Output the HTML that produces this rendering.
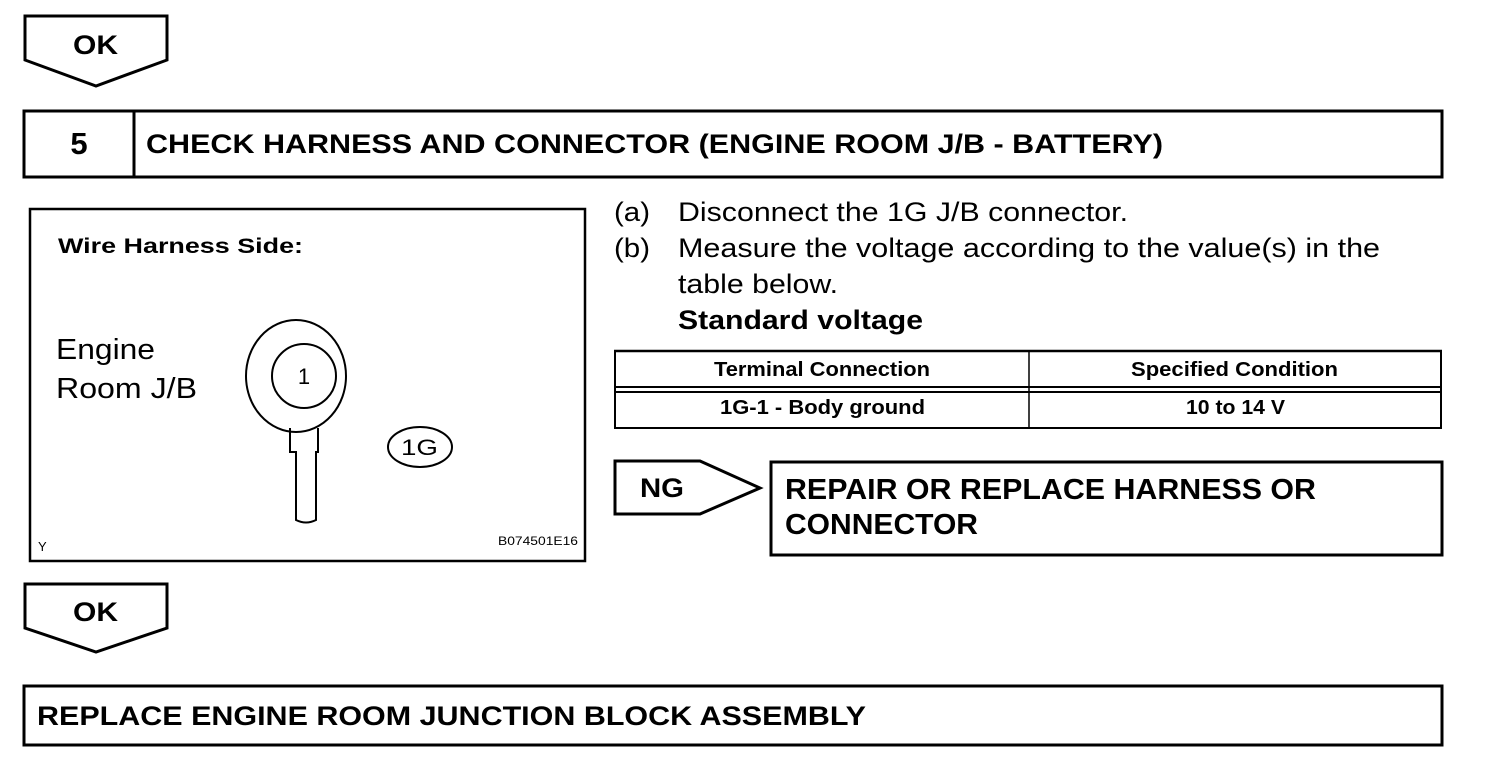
<!DOCTYPE html>
<html><head><meta charset="utf-8"><style>
html,body{margin:0;padding:0;background:#fff;}
svg{display:block;}
text{font-family:"Liberation Sans",Arial,sans-serif;fill:#000;}
.b{font-weight:bold;}
.n{font-family:"Liberation Sans",sans-serif;font-weight:bold;}
</style></head><body>
<svg width="1504" height="770" viewBox="0 0 1504 770" xmlns="http://www.w3.org/2000/svg">
<g fill="none" stroke="#000" stroke-width="3">
<polygon points="25,16 167,16 167,60 96,86 25,60"/>
<rect x="24" y="111" width="1418" height="66"/>
<line x1="134" y1="111" x2="134" y2="177"/>
<rect x="30" y="209" width="555" height="352" stroke-width="2.5"/>
<polygon points="25,584 167,584 167,628 96,652 25,628"/>
<rect x="24" y="686" width="1418" height="59"/>
<polygon points="615,461 700,461 760,488 700,514 615,514"/>
<rect x="771" y="462" width="671" height="93"/>
</g>
<g stroke="#000" fill="none">
<line x1="614" y1="351" x2="1442" y2="351" stroke-width="2.5"/>
<line x1="614" y1="387" x2="1442" y2="387" stroke-width="2"/>
<line x1="614" y1="392" x2="1442" y2="392" stroke-width="2"/>
<line x1="614" y1="428" x2="1442" y2="428" stroke-width="2"/>
<line x1="615" y1="351" x2="615" y2="428" stroke-width="2"/>
<line x1="1029" y1="351" x2="1029" y2="428" stroke-width="1.5"/>
<line x1="1441" y1="351" x2="1441" y2="428" stroke-width="2"/>
</g>
<g fill="none" stroke="#000" stroke-width="2">
<ellipse cx="296" cy="376" rx="50" ry="56"/>
<ellipse cx="304" cy="376" rx="32" ry="32"/>
<path d="M290,428 L290,452 L296,452 L296,520 Q306,525 316,520 L316,452 L318,452 L318,428"/>
<ellipse cx="420" cy="447" rx="32" ry="20"/>
</g>
<text x="73" y="54" class="b" font-size="27" textLength="45" lengthAdjust="spacingAndGlyphs">OK</text>
<text x="73" y="621" class="b" font-size="27" textLength="45" lengthAdjust="spacingAndGlyphs">OK</text>
<text x="79" y="154" class="b" font-size="31" text-anchor="middle">5</text>
<text x="146" y="153" class="b" font-size="27" textLength="1017" lengthAdjust="spacingAndGlyphs">CHECK HARNESS AND CONNECTOR (ENGINE ROOM J/B - BATTERY)</text>
<text x="58" y="253" class="b" font-size="21" textLength="245" lengthAdjust="spacingAndGlyphs">Wire Harness Side:</text>
<text x="56" y="359" font-size="29" textLength="99" lengthAdjust="spacingAndGlyphs">Engine</text>
<text x="56" y="398" font-size="29" textLength="141" lengthAdjust="spacingAndGlyphs">Room J/B</text>
<text x="304" y="384" font-size="22" text-anchor="middle">1</text>
<text x="401" y="455" font-size="22" textLength="37" lengthAdjust="spacingAndGlyphs">1G</text>
<text x="38" y="551" font-size="13">Y</text>
<text x="498" y="545" font-size="12" textLength="80" lengthAdjust="spacingAndGlyphs">B074501E16</text>
<text x="614" y="221" font-size="27" textLength="36" lengthAdjust="spacingAndGlyphs">(a)</text>
<text x="678" y="221" font-size="27" textLength="450" lengthAdjust="spacingAndGlyphs">Disconnect the 1G J/B connector.</text>
<text x="614" y="257" font-size="27" textLength="36" lengthAdjust="spacingAndGlyphs">(b)</text>
<text x="678" y="257" font-size="27" textLength="702" lengthAdjust="spacingAndGlyphs">Measure the voltage according to the value(s) in the</text>
<text x="678" y="293" font-size="27" textLength="160" lengthAdjust="spacingAndGlyphs">table below.</text>
<text x="678" y="329" class="b" font-size="27" textLength="245" lengthAdjust="spacingAndGlyphs">Standard voltage</text>
<text x="714" y="376" class="n" font-size="20" textLength="216" lengthAdjust="spacingAndGlyphs">Terminal Connection</text>
<text x="1131" y="376" class="n" font-size="20" textLength="207" lengthAdjust="spacingAndGlyphs">Specified Condition</text>
<text x="720" y="414" class="n" font-size="20" textLength="205" lengthAdjust="spacingAndGlyphs">1G-1 - Body ground</text>
<text x="1186" y="414" class="n" font-size="20" textLength="99" lengthAdjust="spacingAndGlyphs">10 to 14 V</text>
<text x="640" y="497" class="b" font-size="27" textLength="44" lengthAdjust="spacingAndGlyphs">NG</text>
<text x="785" y="499" class="b" font-size="29" textLength="531" lengthAdjust="spacingAndGlyphs">REPAIR OR REPLACE HARNESS OR</text>
<text x="785" y="534" class="b" font-size="29" textLength="193" lengthAdjust="spacingAndGlyphs">CONNECTOR</text>
<text x="37" y="725" class="b" font-size="27" textLength="829" lengthAdjust="spacingAndGlyphs">REPLACE ENGINE ROOM JUNCTION BLOCK ASSEMBLY</text>
</svg>
</body></html>
